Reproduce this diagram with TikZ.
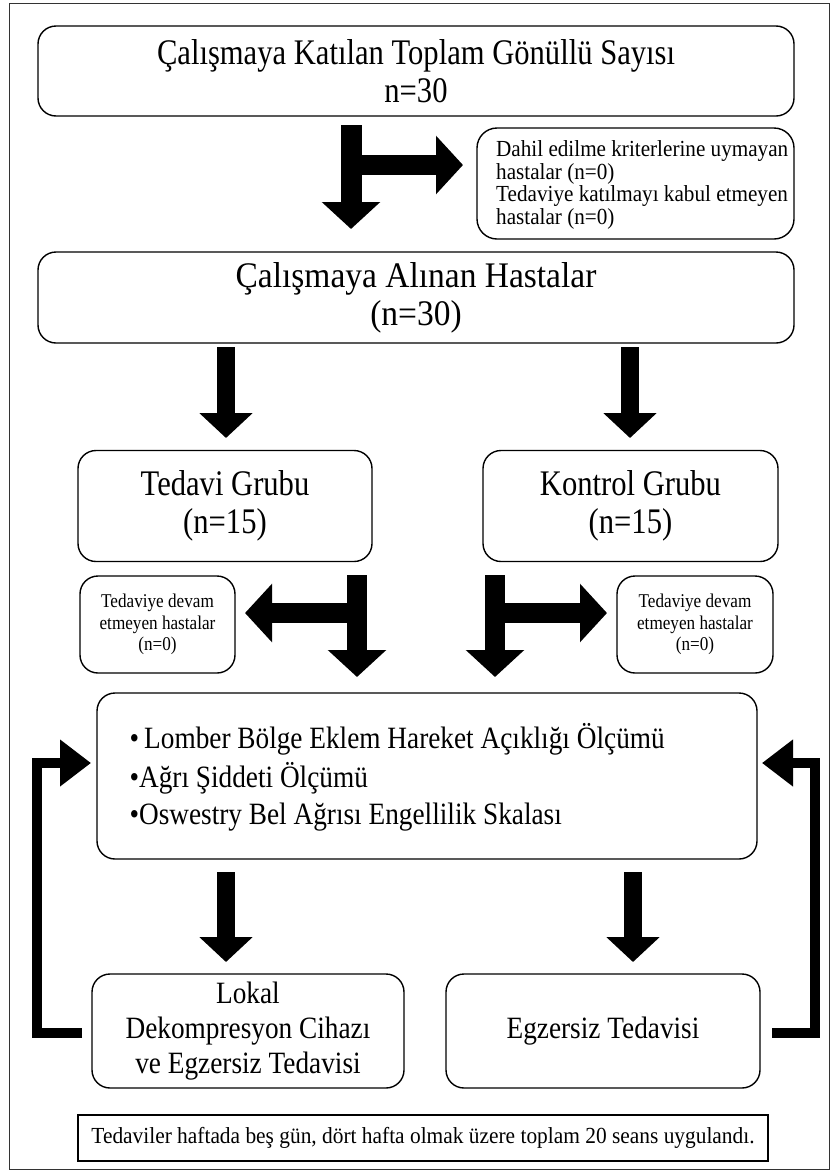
\documentclass[tikz,border=0pt]{standalone}
\usepackage{fontspec}
\setmainfont{Liberation Serif}
\newfontfamily\cnda[FakeStretch=0.85]{Liberation Serif}
\newfontfamily\cndb[FakeStretch=0.93]{Liberation Serif}
\newfontfamily\cndc[FakeStretch=0.88]{Liberation Serif}
\newfontfamily\cndd[FakeStretch=0.92]{Liberation Serif}
\usetikzlibrary{arrows.meta}
\tikzset{
  rbox/.style={draw=black, line width=1.4pt, rounded corners=18pt, inner sep=0pt, align=center},
  sqbox/.style={draw=black, line width=1.2pt, inner sep=0pt, align=center},
  fatarrow/.style={line width=20pt, -{Triangle[width=57pt,length=27pt]}},
  midarrow/.style={line width=18pt, -{Triangle[width=52pt,length=25pt]}},
  looparrow/.style={line width=10pt, -{Triangle[width=45pt,length=31pt]}},
  big/.style={font=\cnda\fontsize{36}{38}\selectfont},
  bigb/.style={font=\cndb\fontsize{36}{38}\selectfont},
  med/.style={font=\cndc\fontsize{31}{35}\selectfont},
  sml/.style={font=\cndd\fontsize{23}{22.5}\selectfont},
  tiny/.style={font=\cndc\fontsize{19.5}{21.5}\selectfont},
  notef/.style={font=\cndb\fontsize{23}{25}\selectfont},
}
\begin{document}
\begin{tikzpicture}[x=1pt,y=-1pt]
\useasboundingbox (0,0) rectangle (832,1173);
\draw[line width=0.8pt, black!80] (9,3) rectangle (829,1169);

% boxes
\node[rbox, big, minimum width=756pt, minimum height=90pt] (top) at (416,71)
  {Çalışmaya Katılan Toplam Gönüllü Sayısı\\n=30};
\node[rbox, minimum width=317pt, minimum height=111pt, rounded corners=20pt] (excl) at (635.5,183.5) {};
\node[sml, anchor=west, align=left, inner sep=0pt] (excltxt) at (496,185)
  {Dahil edilme kriterlerine uymayan\\hastalar (n=0)\\Tedaviye katılmayı kabul etmeyen\\hastalar (n=0)};
\node[rbox, bigb, minimum width=756pt, minimum height=91pt] (incl) at (416,297.5)
  {Çalışmaya Alınan Hastalar\\(n=30)};
\node[rbox, big, minimum width=294pt, minimum height=111pt] (tg) at (225,506)
  {Tedavi Grubu\\(n=15)};
\node[rbox, big, minimum width=295pt, minimum height=111pt] (kg) at (630.5,506)
  {Kontrol Grubu\\(n=15)};
\node[rbox, tiny, minimum width=155pt, minimum height=97pt] (dl) at (157.5,624.5)
  {Tedaviye devam\\etmeyen hastalar\\(n=0)};
\node[rbox, tiny, minimum width=156pt, minimum height=97pt] (dr) at (695,624.5)
  {Tedaviye devam\\etmeyen hastalar\\(n=0)};
\node[rbox, minimum width=660pt, minimum height=166pt] (meas) at (427,776) {};
\node[med, anchor=west] (m1) at (126,739) {•\,Lomber Bölge Eklem Hareket Açıklığı Ölçümü};
\node[med, anchor=west] (m2) at (126,778) {•Ağrı Şiddeti Ölçümü};
\node[med, anchor=west] (m3) at (126,817) {•Oswestry Bel Ağrısı Engellilik Skalası};
\node[rbox, med, minimum width=312pt, minimum height=114pt] (bl) at (248,1031)
  {Lokal\\Dekompresyon Cihazı\\ve Egzersiz Tedavisi};
\node[rbox, med, minimum width=314pt, minimum height=114pt] (br) at (603,1031)
  {Egzersiz Tedavisi};
\node[sqbox, notef, minimum width=690pt, minimum height=46pt] (note) at (423,1138)
  {Tedaviler haftada beş gün, dört hafta olmak üzere toplam 20 seans uygulandı.};

% arrow coordinates
\coordinate (t1a) at (351,125);  \coordinate (t1b) at (351,229);
\coordinate (t1c) at (351,165);  \coordinate (t1d) at (463,165);
\coordinate (d1a) at (226,347);  \coordinate (d1b) at (226,438);
\coordinate (d2a) at (630,347);  \coordinate (d2b) at (630,438);
\coordinate (l1a) at (357,575);  \coordinate (l1b) at (357,677);
\coordinate (l1c) at (357,613);  \coordinate (l1d) at (245,613);
\coordinate (r1a) at (495,575);  \coordinate (r1b) at (495,677);
\coordinate (r1c) at (495,613);  \coordinate (r1d) at (607,613);
\coordinate (e1a) at (226,872);  \coordinate (e1b) at (226,962);
\coordinate (e2a) at (633,872);  \coordinate (e2b) at (633,962);
\coordinate (lpa) at (82,1033);  \coordinate (lpb) at (91,763);
\coordinate (rpa) at (772,1033); \coordinate (rpb) at (762,763);

\draw[fatarrow, line width=21pt] (t1a) -- (t1b);
\draw[fatarrow] (t1c) -- (t1d);
\draw[midarrow] (d1a) -- (d1b);
\draw[midarrow] (d2a) -- (d2b);
\draw[fatarrow] (l1a) -- (l1b);
\draw[fatarrow] (l1c) -- (l1d);
\draw[fatarrow] (r1a) -- (r1b);
\draw[fatarrow] (r1c) -- (r1d);
\draw[midarrow] (e1a) -- (e1b);
\draw[midarrow] (e2a) -- (e2b);
\draw[looparrow] (lpa) -- (37,1033) -- (37,763) -- (lpb);
\draw[looparrow] (rpa) -- (815,1033) -- (815,763) -- (rpb);
\end{tikzpicture}
\end{document}
